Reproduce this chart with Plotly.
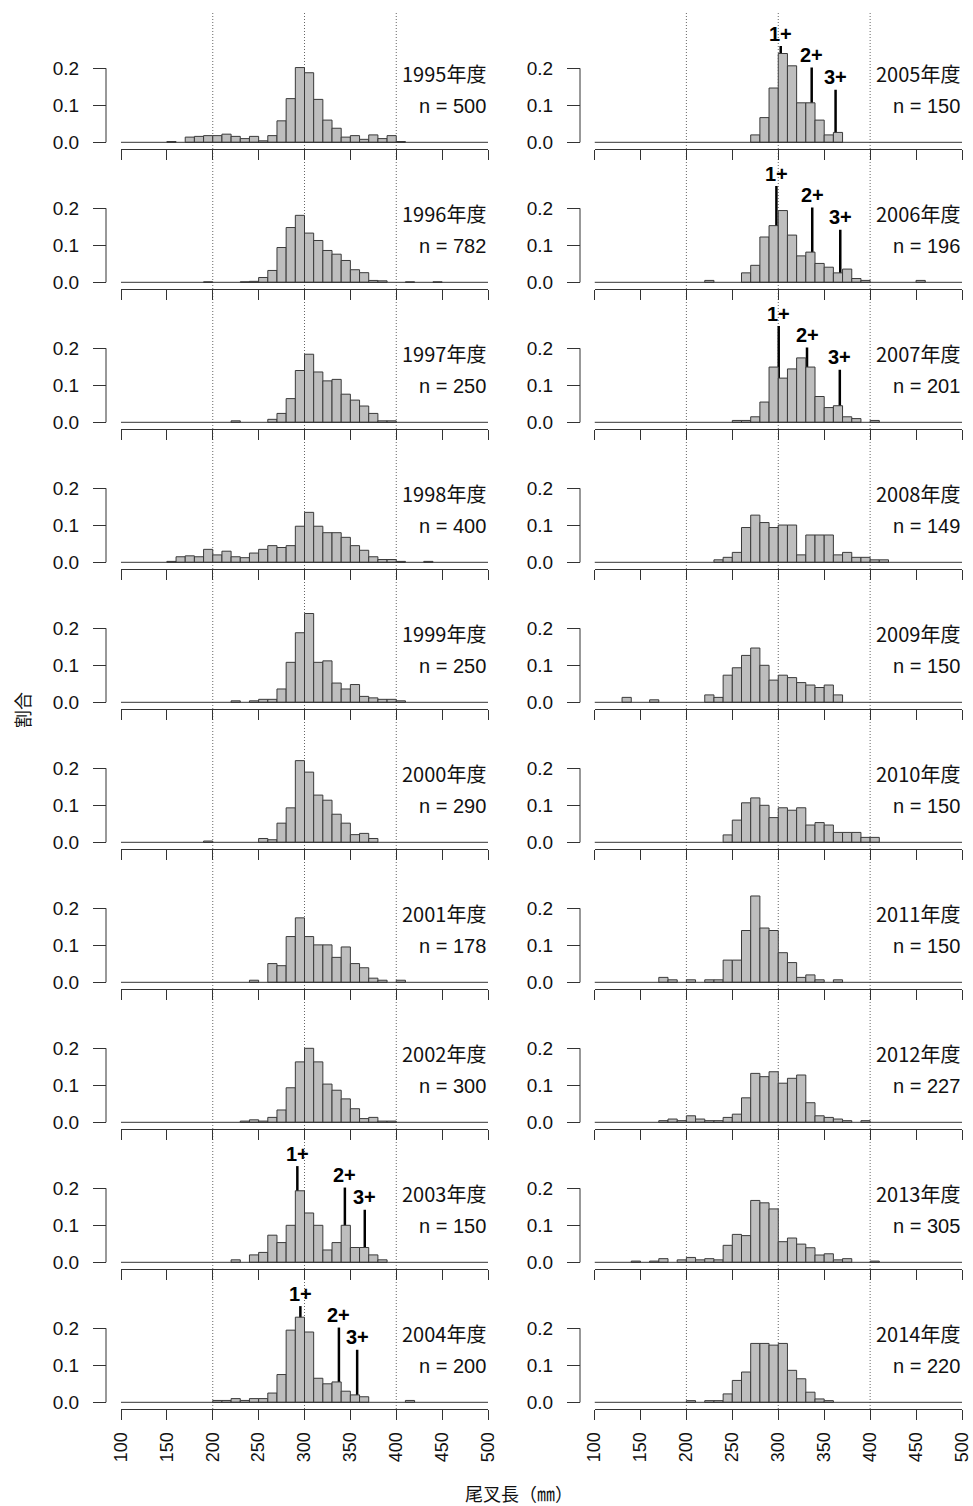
import plotly.graph_objects as go

# ---------------- data (proportion per 10-mm bin, bins 100-110 ... 490-500) ----------------
bin_centers = [105, 115, 125, 135, 145, 155, 165, 175, 185, 195,
               205, 215, 225, 235, 245, 255, 265, 275, 285, 295,
               305, 315, 325, 335, 345, 355, 365, 375, 385, 395,
               405, 415, 425, 435, 445, 455, 465, 475, 485, 495]

p1995 = [0, 0, 0, 0, 0, 0.002, 0, 0.014, 0.016, 0.018,
         0.018, 0.022, 0.016, 0.010, 0.016, 0.004, 0.018, 0.058, 0.118, 0.202,
         0.188, 0.116, 0.060, 0.038, 0.014, 0.018, 0.008, 0.020, 0.010, 0.018,
         0.002, 0, 0, 0, 0, 0, 0, 0, 0, 0]
p1996 = [0, 0, 0, 0, 0, 0, 0, 0, 0, 0.0013,
         0, 0, 0, 0.0013, 0.0026, 0.013, 0.032, 0.094, 0.148, 0.181,
         0.133, 0.113, 0.086, 0.076, 0.059, 0.034, 0.026, 0.005, 0.004, 0,
         0, 0.0013, 0, 0, 0.0013, 0, 0, 0, 0, 0]
p1997 = [0, 0, 0, 0, 0, 0, 0, 0, 0, 0,
         0, 0, 0.004, 0, 0, 0, 0.008, 0.024, 0.064, 0.140,
         0.184, 0.136, 0.112, 0.116, 0.076, 0.060, 0.044, 0.024, 0.004, 0.004,
         0, 0, 0, 0, 0, 0, 0, 0, 0, 0]
p1998 = [0, 0, 0, 0, 0, 0.0025, 0.015, 0.0175, 0.015, 0.035,
         0.02, 0.03, 0.015, 0.0125, 0.025, 0.035, 0.045, 0.04, 0.045, 0.0975,
         0.135, 0.0975, 0.08, 0.08, 0.0675, 0.045, 0.0325, 0.015, 0.0075, 0.0075,
         0.0025, 0, 0, 0.0025, 0, 0, 0, 0, 0, 0]
p1999 = [0, 0, 0, 0, 0, 0, 0, 0, 0, 0,
         0, 0, 0.004, 0, 0.004, 0.008, 0.008, 0.036, 0.108, 0.188,
         0.240, 0.108, 0.112, 0.052, 0.036, 0.048, 0.016, 0.012, 0.008, 0.008,
         0.004, 0, 0, 0, 0, 0, 0, 0, 0, 0]
p2000 = [0, 0, 0, 0, 0, 0, 0, 0, 0, 0.0034,
         0, 0, 0, 0, 0, 0.0103, 0.0069, 0.0517, 0.0931, 0.2207,
         0.1897, 0.1276, 0.1138, 0.0759, 0.0517, 0.0207, 0.0241, 0.0103, 0, 0,
         0, 0, 0, 0, 0, 0, 0, 0, 0, 0]
p2001 = [0, 0, 0, 0, 0, 0, 0, 0, 0, 0,
         0, 0, 0, 0, 0.0056, 0, 0.0506, 0.0449, 0.1236, 0.1742,
         0.1236, 0.1011, 0.1011, 0.0674, 0.0955, 0.0506, 0.0393, 0.0112, 0.0056, 0,
         0.0056, 0, 0, 0, 0, 0, 0, 0, 0, 0]
p2002 = [0, 0, 0, 0, 0, 0, 0, 0, 0, 0,
         0, 0, 0, 0.0033, 0.0067, 0.0033, 0.0133, 0.0333, 0.0933, 0.1633,
         0.2, 0.1633, 0.1033, 0.0867, 0.0633, 0.0367, 0.01, 0.0133, 0.0033, 0.0033,
         0, 0, 0, 0, 0, 0, 0, 0, 0, 0]
p2003 = [0, 0, 0, 0, 0, 0, 0, 0, 0, 0,
         0, 0, 0.0067, 0, 0.02, 0.0267, 0.0733, 0.0533, 0.1, 0.1933,
         0.1333, 0.1, 0.0333, 0.0533, 0.1, 0.04, 0.04, 0.02, 0.0067, 0,
         0, 0, 0, 0, 0, 0, 0, 0, 0, 0]
p2004 = [0, 0, 0, 0, 0, 0, 0, 0, 0, 0,
         0.005, 0.005, 0.01, 0.005, 0.01, 0.01, 0.025, 0.075, 0.195, 0.23,
         0.19, 0.065, 0.05, 0.055, 0.03, 0.02, 0.015, 0, 0, 0,
         0, 0.005, 0, 0, 0, 0, 0, 0, 0, 0]
p2005 = [0, 0, 0, 0, 0, 0, 0, 0, 0, 0,
         0, 0, 0, 0, 0, 0, 0, 0.02, 0.0667, 0.1467,
         0.24, 0.2067, 0.1067, 0.1067, 0.06, 0.02, 0.0267, 0, 0, 0,
         0, 0, 0, 0, 0, 0, 0, 0, 0, 0]
p2006 = [0, 0, 0, 0, 0, 0, 0, 0, 0, 0,
         0, 0, 0.0051, 0, 0, 0, 0.0255, 0.0459, 0.1224, 0.1531,
         0.1939, 0.1276, 0.0714, 0.0816, 0.051, 0.0408, 0.0255, 0.0357, 0.0102, 0.0051,
         0, 0, 0, 0, 0, 0.0051, 0, 0, 0, 0]
p2007 = [0, 0, 0, 0, 0, 0, 0, 0, 0, 0,
         0, 0, 0, 0, 0, 0.005, 0.005, 0.0149, 0.0547, 0.1493,
         0.1194, 0.1443, 0.1741, 0.1493, 0.0697, 0.0398, 0.0448, 0.0149, 0.01, 0,
         0.005, 0, 0, 0, 0, 0, 0, 0, 0, 0]
p2008 = [0, 0, 0, 0, 0, 0, 0, 0, 0, 0,
         0, 0, 0, 0.0067, 0.0134, 0.0268, 0.094, 0.1275, 0.1074, 0.094,
         0.1007, 0.1007, 0.0201, 0.0738, 0.0738, 0.0738, 0.0201, 0.0268, 0.0134, 0.0134,
         0.0067, 0.0067, 0, 0, 0, 0, 0, 0, 0, 0]
p2009 = [0, 0, 0, 0.0133, 0, 0, 0.0067, 0, 0, 0,
         0, 0, 0.02, 0.0133, 0.0733, 0.0933, 0.1267, 0.1467, 0.1, 0.06,
         0.0733, 0.0667, 0.0533, 0.0467, 0.04, 0.0467, 0.02, 0, 0, 0,
         0, 0, 0, 0, 0, 0, 0, 0, 0, 0]
p2010 = [0, 0, 0, 0, 0, 0, 0, 0, 0, 0,
         0, 0, 0, 0, 0.02, 0.06, 0.1067, 0.12, 0.1, 0.0667,
         0.0933, 0.0867, 0.0933, 0.0467, 0.0533, 0.0467, 0.0267, 0.0267, 0.0267, 0.0133,
         0.0133, 0, 0, 0, 0, 0, 0, 0, 0, 0]
p2011 = [0, 0, 0, 0, 0, 0, 0, 0.0133, 0.0067, 0,
         0.0067, 0, 0.0067, 0.0067, 0.06, 0.06, 0.14, 0.2333, 0.1467, 0.14,
         0.08, 0.0533, 0.0133, 0.02, 0.0067, 0, 0.0067, 0, 0, 0,
         0, 0, 0, 0, 0, 0, 0, 0, 0, 0]
p2012 = [0, 0, 0, 0, 0, 0, 0, 0.0044, 0.0088, 0.0044,
         0.0176, 0.0088, 0.0044, 0.0044, 0.0132, 0.022, 0.0661, 0.1322, 0.1233, 0.1366,
         0.1057, 0.1189, 0.1278, 0.0529, 0.0176, 0.0132, 0.0088, 0.0044, 0, 0.0044,
         0, 0, 0, 0, 0, 0, 0, 0, 0, 0]
p2013 = [0, 0, 0, 0, 0.0033, 0, 0.0033, 0.0098, 0, 0.0066,
         0.0131, 0.0066, 0.0098, 0.0066, 0.0459, 0.0754, 0.0721, 0.1672, 0.1607, 0.1443,
         0.0557, 0.0656, 0.0492, 0.0393, 0.0197, 0.023, 0.0066, 0.0098, 0, 0,
         0.0033, 0, 0, 0, 0, 0, 0, 0, 0, 0]
p2014 = [0, 0, 0, 0, 0, 0, 0, 0, 0, 0,
         0.0045, 0, 0.0045, 0.0045, 0.0227, 0.0591, 0.0818, 0.1591, 0.1591, 0.1545,
         0.1591, 0.0864, 0.0636, 0.0273, 0.0091, 0.0045, 0, 0, 0, 0,
         0, 0, 0, 0, 0, 0, 0, 0, 0, 0]

years = [1995, 1996, 1997, 1998, 1999, 2000, 2001, 2002, 2003, 2004,
         2005, 2006, 2007, 2008, 2009, 2010, 2011, 2012, 2013, 2014]
sample_n = [500, 782, 250, 400, 250, 290, 178, 300, 150, 200,
            150, 196, 201, 149, 150, 150, 150, 227, 305, 220]
props = [p1995, p1996, p1997, p1998, p1999, p2000, p2001, p2002, p2003, p2004,
         p2005, p2006, p2007, p2008, p2009, p2010, p2011, p2012, p2013, p2014]

# age-class markers (fork length of each mode, mm) and marker heights
age_labels = ["1+", "2+", "3+"]
age_top = [0.26, 0.202, 0.142]
age_years = [2003, 2004, 2005, 2006, 2007]
age2003 = [292.2, 344.0, 365.7]
age2004 = [295.5, 337.5, 357.4]
age2005 = [302.7, 336.4, 362.4]
age2006 = [298.0, 337.0, 367.5]
age2007 = [300.5, 331.3, 367.0]
age_pos = [age2003, age2004, age2005, age2006, age2007]

x_ticks = [100, 150, 200, 250, 300, 350, 400, 450, 500]
y_ticks = [0, 0.1, 0.2]
y_ticktext = ["0.0", "0.1", "0.2"]
ref_lines = [200, 300, 400]

# ---------------- layout geometry (pixels) ----------------
W, H = 973, 1506
col_x = [(121.0, 488.0), (594.5, 962.0)]      # pixel x of 100 mm and 500 mm
yaxis_px = [106.0, 580.0]                    # pixel x of the y axis line
row_step = 140.0
base0 = 142.3                                # pixel y of 0 in the first row
unit = 370.0                                 # pixels per 1.0 of proportion
dom_bottom0 = 149.0
dom_top0 = 12.0
y_lo = -(dom_bottom0 - base0) / unit
y_hi = (base0 - dom_top0) / unit

TXT = "#111111"
AX = "#333333"
SANS = "Liberation Sans, Arial, sans-serif"
JP = "Noto Sans CJK JP, sans-serif"

fig = go.Figure()
layout = dict(
    width=W, height=H, margin=dict(l=0, r=0, t=0, b=0, autoexpand=False),
    paper_bgcolor="white", plot_bgcolor="white", showlegend=False,
    font=dict(family=SANS, size=19, color=TXT),
)
shapes = []
annotations = []

for i, yr in enumerate(years):
    col, row = divmod(i, 10)
    n = i + 1
    xs = "" if n == 1 else str(n)
    xname, yname = "x" + xs, "y" + xs
    vals = props[i]
    bx = [c for c, v in zip(bin_centers, vals) if v > 0]
    by = [v for v in vals if v > 0]
    fig.add_trace(go.Bar(
        x=bx, y=by, width=10, xaxis=xname, yaxis=yname,
        marker=dict(color="#BEBEBE", line=dict(color="#3A3A3A", width=1)),
        hovertemplate="%{x}: %{y:.3f}<extra>" + str(yr) + "</extra>",
    ))
    pb = dom_bottom0 + row_step * row
    pt = dom_top0 + row_step * row
    layout["xaxis" + xs] = dict(
        domain=[col_x[col][0] / W, col_x[col][1] / W], range=[100, 500],
        anchor=yname, showline=True, linecolor=AX, linewidth=1,
        ticks="outside", ticklen=10, tickcolor=AX, tickwidth=1,
        tickvals=x_ticks, showticklabels=(row == 9), tickangle=-90,
        ticklabelstandoff=5, automargin=False,
        showgrid=False, zeroline=False, fixedrange=True,
        tickfont=dict(family=SANS, size=18, color=TXT),
    )
    layout["yaxis" + xs] = dict(
        domain=[1 - pb / H, 1 - pt / H], range=[y_lo, y_hi],
        anchor="free", position=yaxis_px[col] / W,
        showline=False, ticks="outside", ticklen=13, tickcolor=AX, tickwidth=1,
        tickvals=y_ticks, ticktext=y_ticktext, ticklabelstandoff=10, automargin=False,
        showgrid=False, zeroline=False, fixedrange=True,
        tickfont=dict(family=SANS, size=19, color=TXT),
    )
    # y-axis line (0 to 0.2 only)
    shapes.append(dict(type="line", xref="paper", yref=yname,
                       x0=yaxis_px[col] / W, x1=yaxis_px[col] / W, y0=0, y1=0.2,
                       line=dict(color=AX, width=1)))
    # baseline at 0
    shapes.append(dict(type="line", xref=xname, yref=yname, x0=100, x1=500, y0=0, y1=0,
                       line=dict(color=AX, width=1)))
    # dotted reference lines
    for v in ref_lines:
        shapes.append(dict(type="line", xref=xname, yref=yname + " domain",
                           x0=v, x1=v, y0=0, y1=1, layer="below",
                           line=dict(color="#666666", width=1, dash="1px,2px")))
    # labels
    annotations.append(dict(xref=xname, yref=yname, x=500, y=0.187, text=f"{yr}年度",
                            showarrow=False, xanchor="right", yanchor="middle",
                            font=dict(family=JP, size=20, color=TXT)))
    annotations.append(dict(xref=xname, yref=yname, x=500, y=0.098, text=f"n = {sample_n[i]}",
                            showarrow=False, xanchor="right", yanchor="middle",
                            font=dict(family=SANS, size=20, color=TXT)))
    # age-class markers
    if yr in age_years:
        pos = age_pos[age_years.index(yr)]
        for lab, xv, top in zip(age_labels, pos, age_top):
            shapes.append(dict(type="line", xref=xname, yref=yname, x0=xv, x1=xv,
                               y0=0, y1=top, layer="below",
                               line=dict(color="#000000", width=2.5)))
            annotations.append(dict(xref=xname, yref=yname, x=xv, y=top + 0.034,
                                    text=f"<b>{lab}</b>", showarrow=False,
                                    xanchor="center", yanchor="middle",
                                    font=dict(family=SANS, size=20, color="#000000")))

# axis titles
annotations.append(dict(xref="paper", yref="paper", x=22 / W, y=1 - 710 / H, text="割合",
                        showarrow=False, textangle=-90, xanchor="center", yanchor="middle",
                        font=dict(family=JP, size=18, color=TXT)))
annotations.append(dict(xref="paper", yref="paper", x=519 / W, y=1 - 1493 / H,
                        text="尾叉長（㎜）", showarrow=False, xanchor="center", yanchor="middle",
                        font=dict(family=JP, size=18, color=TXT)))

layout["shapes"] = shapes
layout["annotations"] = annotations
fig.update_layout(**layout)
fig.write_html("out.html", config={"displayModeBar": False},
               post_script="document.body.style.margin='0';document.body.style.overflow='hidden';")
